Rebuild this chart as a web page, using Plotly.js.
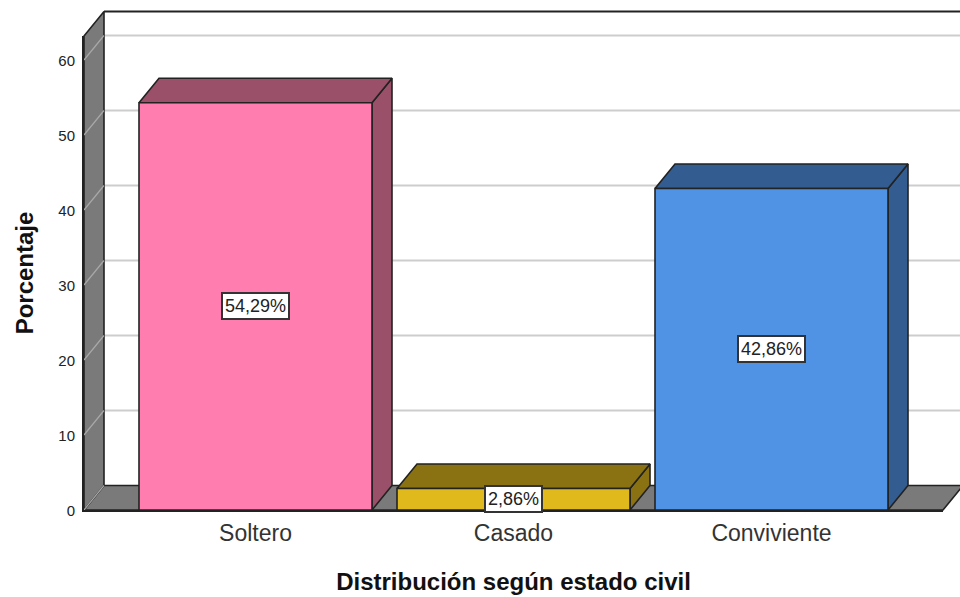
<!DOCTYPE html>
<html><head><meta charset="utf-8">
<script src="https://cdn.plot.ly/plotly-3.0.1.min.js"></script>
<style>html,body{margin:0;padding:0;background:#fff}#c{width:960px;height:597px}</style>
</head><body><div id="c"></div>
<script>
const categories = ['Soltero','Casado','Conviviente'];
const values = [54.29, 2.86, 42.86];
const valueLabels = ['54,29%','2,86%','42,86%'];
const frontColors = ['#FF7DAF','#E0B91C','#5092E3'];
const depthColors = ['#9A5069','#8A7212','#335C90'];
const yTicks = [0,10,20,30,40,50,60];

const W=960,H=597;
const pxPerCat=258, pxPerUnit=7.5, firstCenter=255.5, zeroY=510;
const barWidth=233/pxPerCat;
const dX=20/pxPerCat, dY=24.5/pxPerUnit;
const toX=p=>(p-firstCenter)/pxPerCat, toY=p=>(zeroY-p)/pxPerUnit;
const FRONT={l:84,r:943,t:36,b:510}, BACK={l:80,r:960,t:8,b:514};
const INK='#222222', WALL='#7A7A7A';
const xL=toX(FRONT.l), xR=toX(FRONT.r), xEnd=toX(BACK.r), yTop=toY(FRONT.t);

const poly=(xs,ys,fill,lw)=>({type:'scatter',mode:'lines',x:xs,y:ys,xaxis:'x',yaxis:'y',fill:'toself',fillcolor:fill,
  line:{color:INK,width:lw===undefined?1.6:lw},hoverinfo:'skip',showlegend:false});
const seg=(xs,ys,color,lw)=>({type:'scatter',mode:'lines',x:xs,y:ys,xaxis:'x',yaxis:'y',
  line:{color:color,width:lw},hoverinfo:'skip',showlegend:false});

const traces=[];
// back wall gridlines
yTicks.slice(1).forEach(v=>traces.push(seg([xL+dX,xEnd+1],[v+dY,v+dY],'#CDCDCD',2)));
// back wall top edge
traces.push(seg([xL+dX,xEnd+1],[yTop+dY,yTop+dY],INK,2));
// floor
traces.push(poly([xL,xL+dX,xR+dX,xR,xL],[0,dY,dY,0,0],WALL));
// left wall
traces.push(poly([xL,xL+dX,xL+dX,xL,xL],[0,dY,yTop+dY,yTop,0],WALL));
yTicks.forEach(v=>traces.push(seg([xL,xL+dX],[v,v+dY],'#A8A8A8',1.2)));
// bar depth faces
categories.forEach((c,i)=>{
  const a=i-barWidth/2,b=i+barWidth/2,v=values[i];
  traces.push(poly([b,b+dX,b+dX,b,b],[0,dY,v+dY,v,0],depthColors[i]));
  traces.push(poly([a,a+dX,b+dX,b,a],[v,v+dY,v+dY,v,v],depthColors[i]));
});
// bar fronts
traces.push({type:'bar',x:categories,y:values,xaxis:'x2',yaxis:'y2',width:barWidth,
  marker:{color:frontColors,line:{color:INK,width:1.6}},hoverinfo:'skip',showlegend:false});

const font='"Liberation Sans", Arial, sans-serif';
const layout={
  width:W,height:H,margin:{l:0,r:0,t:0,b:0},paper_bgcolor:'#fff',plot_bgcolor:'rgba(0,0,0,0)',showlegend:false,
  font:{family:font,color:'#222'},
  xaxis:{domain:[BACK.l/W,BACK.r/W],range:[toX(BACK.l),xEnd],anchor:'y',visible:false,fixedrange:true},
  yaxis:{domain:[(H-BACK.b)/H,(H-BACK.t)/H],range:[toY(BACK.b),toY(BACK.t)],anchor:'x',visible:false,fixedrange:true},
  xaxis2:{domain:[FRONT.l/W,FRONT.r/W],anchor:'y2',type:'category',range:[xL,xR],showgrid:false,zeroline:false,automargin:true,
    showline:true,linecolor:INK,linewidth:2,ticks:'',ticklabelstandoff:1,tickfont:{size:23,color:'#333',family:font},
    title:{text:'Distribución según estado civil',font:{size:24,color:'#111',family:font,weight:'bold'},standoff:29}},
  yaxis2:{domain:[(H-FRONT.b)/H,(H-FRONT.t)/H],anchor:'x2',range:[0,yTop],tickvals:yTicks,showgrid:false,zeroline:false,
    showline:true,linecolor:INK,linewidth:2,ticks:'',ticklabelstandoff:4,ticklabelshift:1,tickfont:{size:15,color:'#222',family:font},
    title:{text:'Porcentaje',font:{size:24,color:'#111',family:font,weight:'bold'},standoff:18}},
  annotations:categories.map((c,i)=>({xref:'x2',yref:'y2',x:c,y:values[i]/2,text:valueLabels[i],showarrow:false,
    bgcolor:'#fff',bordercolor:'#333',borderwidth:2,borderpad:2,font:{size:18,color:'#222',family:font}}))
};
Plotly.newPlot('c',traces,layout,{staticPlot:true,displayModeBar:false});
</script></body></html>
